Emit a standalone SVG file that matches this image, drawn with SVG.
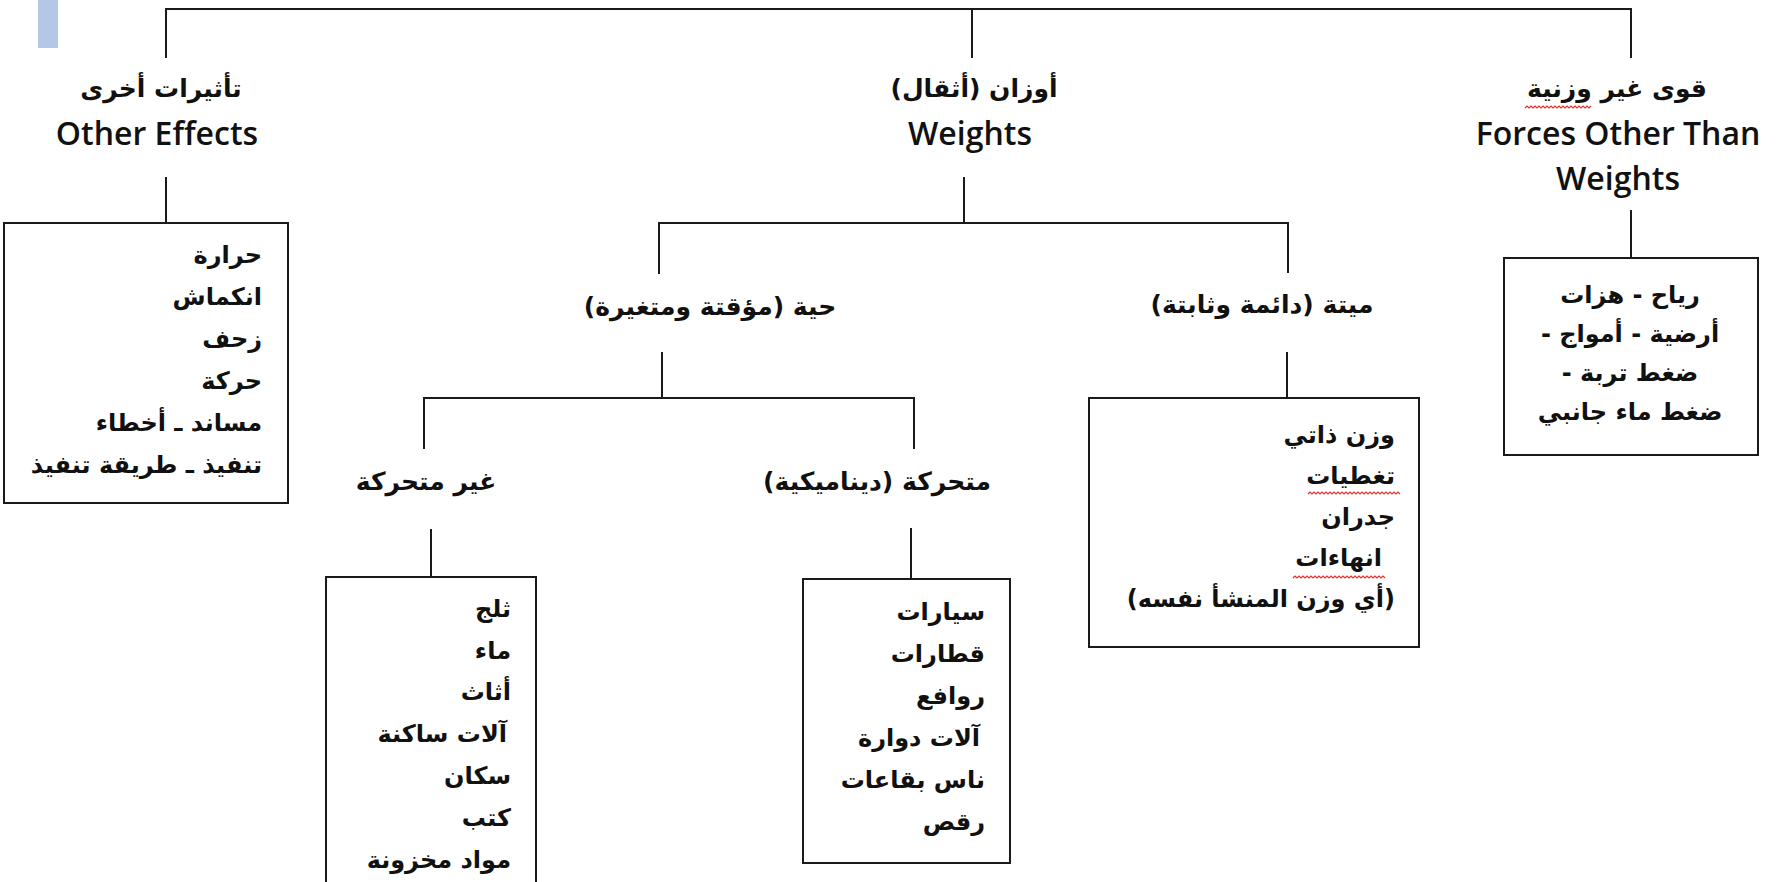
<svg xmlns="http://www.w3.org/2000/svg" width="1779" height="882" viewBox="0 0 1779 882">
<style>
.ln{stroke:#1a1a1a;stroke-width:2;fill:none}
.bx{stroke:#1a1a1a;stroke-width:2;fill:#fff}
.en{font-family:"Open Sans","Liberation Sans",sans-serif;font-size:32px;font-weight:600;fill:#111;text-anchor:middle}
.ah{font-family:"DejaVu Sans",sans-serif;font-size:25px;font-weight:bold;fill:#111;direction:rtl;text-anchor:middle}
.ahb{font-family:"DejaVu Sans",sans-serif;font-size:25px;font-weight:bold;fill:#111;direction:rtl;text-anchor:middle}
.ab{font-family:"DejaVu Sans",sans-serif;font-size:24px;font-weight:bold;fill:#111;direction:rtl;text-anchor:start}
.abc{font-family:"DejaVu Sans",sans-serif;font-size:24px;font-weight:bold;fill:#111;direction:rtl;text-anchor:middle}
.sq{stroke:#e03030;stroke-width:1.2;fill:none}
</style>
<rect x="0" y="0" width="1779" height="882" fill="#fff"/>
<rect x="38" y="0" width="20" height="48" fill="#b4c7e7"/>
<g id="connectors">
<path class="ln" d="M166 58 V9 H1631 V58"/>
<path class="ln" d="M972 9 V58"/>
<path class="ln" d="M166 177 V223"/>
<path class="ln" d="M964 177 V223"/>
<path class="ln" d="M659 274 V223 H1288 V273"/>
<path class="ln" d="M662 352 V398"/>
<path class="ln" d="M424 449 V398 H914 V449"/>
<path class="ln" d="M431 529 V577"/>
<path class="ln" d="M911 528 V579"/>
<path class="ln" d="M1287 352 V398"/>
<path class="ln" d="M1631 210 V258"/>
</g>
<g id="other-effects">
<text class="ah" x="161" y="97">تأثيرات أخرى</text>
<text class="en" x="157" y="145">Other Effects</text>
</g>
<g id="other-effects-box">
<rect class="bx" x="4" y="223" width="284" height="280"/>
<text class="ab" x="262" y="263">حرارة</text>
<text class="ab" x="262" y="305">انكماش</text>
<text class="ab" x="262" y="347">زحف</text>
<text class="ab" x="262" y="389">حركة</text>
<text class="ab" x="262" y="431">مساند ـ أخطاء</text>
<text class="ab" x="262" y="473">تنفيذ ـ طريقة تنفيذ</text>
</g>
<g id="weights">
<text class="ah" x="974" y="97">أوزان (أثقال)</text>
<text class="en" x="970" y="145">Weights</text>
</g>
<g id="forces">
<text class="ahb" x="1617" y="97">قوى غير وزنية</text>
<path class="sq" d="M1525 108 l2 -2 l2 2 l2 -2 l2 2 l2 -2 l2 2 l2 -2 l2 2 l2 -2 l2 2 l2 -2 l2 2 l2 -2 l2 2 l2 -2 l2 2 l2 -2 l2 2 l2 -2 l2 2 l2 -2 l2 2 l2 -2 l2 2 l2 -2 l2 2 l2 -2 l2 2 l2 -2 l2 2 l2 -2 l2 2 l2 -2"/>
<text class="en" x="1618" y="145">Forces Other Than</text>
<text class="en" x="1618" y="190">Weights</text>
</g>
<g id="forces-box">
<rect class="bx" x="1504" y="258" width="254" height="197"/>
<text class="abc" x="1630" y="303">رياح - هزات</text>
<text class="abc" x="1630" y="342">أرضية - أمواج -</text>
<text class="abc" x="1630" y="381">ضغط تربة -</text>
<text class="abc" x="1630" y="420">ضغط ماء جانبي</text>
</g>
<g id="live">
<text class="ahb" x="710" y="315">حية (مؤقتة ومتغيرة)</text>
</g>
<g id="dead">
<text class="ahb" x="1262" y="313">ميتة (دائمة وثابتة)</text>
</g>
<g id="dead-box">
<rect class="bx" x="1089" y="398" width="330" height="249"/>
<text class="ab" x="1395" y="443">وزن ذاتي</text>
<text class="ab" x="1395" y="484">تغطيات</text>
<path class="sq" d="M1308 494 l2 -2 l2 2 l2 -2 l2 2 l2 -2 l2 2 l2 -2 l2 2 l2 -2 l2 2 l2 -2 l2 2 l2 -2 l2 2 l2 -2 l2 2 l2 -2 l2 2 l2 -2 l2 2 l2 -2 l2 2 l2 -2 l2 2 l2 -2 l2 2 l2 -2 l2 2 l2 -2 l2 2 l2 -2 l2 2 l2 -2 l2 2 l2 -2 l2 2 l2 -2 l2 2 l2 -2 l2 2 l2 -2 l2 2 l2 -2 l2 2 l2 -2 l2 2"/>
<text class="ab" x="1395" y="525">جدران</text>
<text class="ab" x="1382" y="566">انهاءات</text>
<path class="sq" d="M1293 578 l2 -2 l2 2 l2 -2 l2 2 l2 -2 l2 2 l2 -2 l2 2 l2 -2 l2 2 l2 -2 l2 2 l2 -2 l2 2 l2 -2 l2 2 l2 -2 l2 2 l2 -2 l2 2 l2 -2 l2 2 l2 -2 l2 2 l2 -2 l2 2 l2 -2 l2 2 l2 -2 l2 2 l2 -2 l2 2 l2 -2 l2 2 l2 -2 l2 2 l2 -2 l2 2 l2 -2 l2 2 l2 -2 l2 2 l2 -2 l2 2 l2 -2 l2 2"/>
<text class="ab" x="1395" y="607">(أي وزن المنشأ نفسه)</text>
</g>
<g id="static">
<text class="ahb" x="426" y="490">غير متحركة</text>
</g>
<g id="static-box">
<rect class="bx" x="326" y="577" width="210" height="320"/>
<text class="ab" x="511" y="617">ثلج</text>
<text class="ab" x="511" y="659">ماء</text>
<text class="ab" x="511" y="700">أثاث</text>
<text class="ab" x="507" y="742">آلات ساكنة</text>
<text class="ab" x="511" y="784">سكان</text>
<text class="ab" x="511" y="826">كتب</text>
<text class="ab" x="511" y="868">مواد مخزونة</text>
</g>
<g id="dynamic">
<text class="ahb" x="877" y="490">متحركة (ديناميكية)</text>
</g>
<g id="dynamic-box">
<rect class="bx" x="803" y="579" width="207" height="284"/>
<text class="ab" x="985" y="620">سيارات</text>
<text class="ab" x="985" y="662">قطارات</text>
<text class="ab" x="985" y="704">روافع</text>
<text class="ab" x="980" y="746">آلات دوارة</text>
<text class="ab" x="985" y="788">ناس بقاعات</text>
<text class="ab" x="985" y="830">رقص</text>
</g>
</svg>
